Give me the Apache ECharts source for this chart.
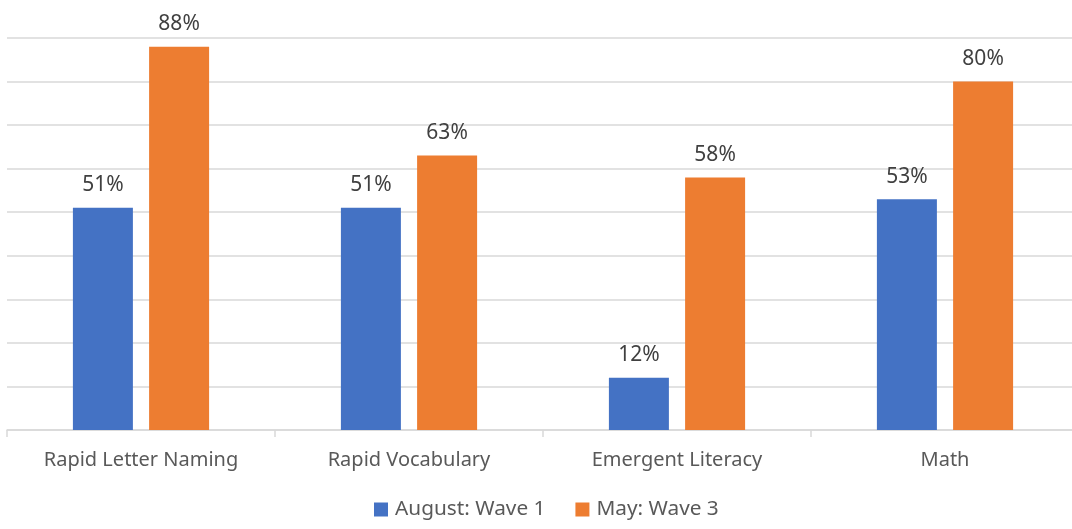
<!DOCTYPE html>
<html><head><meta charset="utf-8">
<script src="https://cdn.jsdelivr.net/npm/echarts@6/dist/echarts.min.js"></script>
<style>html,body{margin:0;padding:0;background:#fff}#c{width:1072px;height:529px}</style>
</head><body><div id="c"></div>
<script>
const categories = ['Rapid Letter Naming', 'Rapid Vocabulary', 'Emergent Literacy', 'Math'];
const seriesNames = ['August: Wave 1', 'May: Wave 3'];
const wave1 = [51, 51, 12, 53];
const wave3 = [88, 63, 58, 80];
const colors = ['#4472C4', '#ED7D31'];
const font = 'Noto Sans';
const chart = echarts.init(document.getElementById('c'));
const label = {show: true, position: 'top', distance: 12, color: '#404040', fontSize: 21, fontFamily: font, formatter: p => p.value + '%'};
chart.setOption({
  animation: false,
  color: colors,
  grid: {left: 7, top: 38, width: 1072, bottom: 99, containLabel: false, outerBoundsMode: 'none'},
  legend: {bottom: 4, left: 369, itemWidth: 14, itemHeight: 14, itemGap: 30, icon: 'rect',
    textStyle: {color: '#595959', fontSize: 20.8, fontFamily: font, padding: [0, 0, 0, 2]}, data: seriesNames},
  xAxis: {type: 'category', data: categories,
    axisLine: {lineStyle: {color: '#d9d9d9', width: 1.5}},
    axisTick: {show: true, length: 7, lineStyle: {color: '#d9d9d9', width: 1.5}},
    axisLabel: {color: '#595959', fontSize: 20, fontFamily: font, margin: 20}},
  yAxis: {type: 'value', min: 0, max: 90, interval: 10,
    axisLabel: {show: false}, axisLine: {show: false}, axisTick: {show: false},
    splitLine: {lineStyle: {color: '#d9d9d9', width: 1.5}}},
  series: [
    {name: seriesNames[0], type: 'bar', data: wave1, barWidth: 60, barGap: '27%', label: label},
    {name: seriesNames[1], type: 'bar', data: wave3, barWidth: 60, barGap: '27%', label: label}
  ]
});
</script></body></html>
